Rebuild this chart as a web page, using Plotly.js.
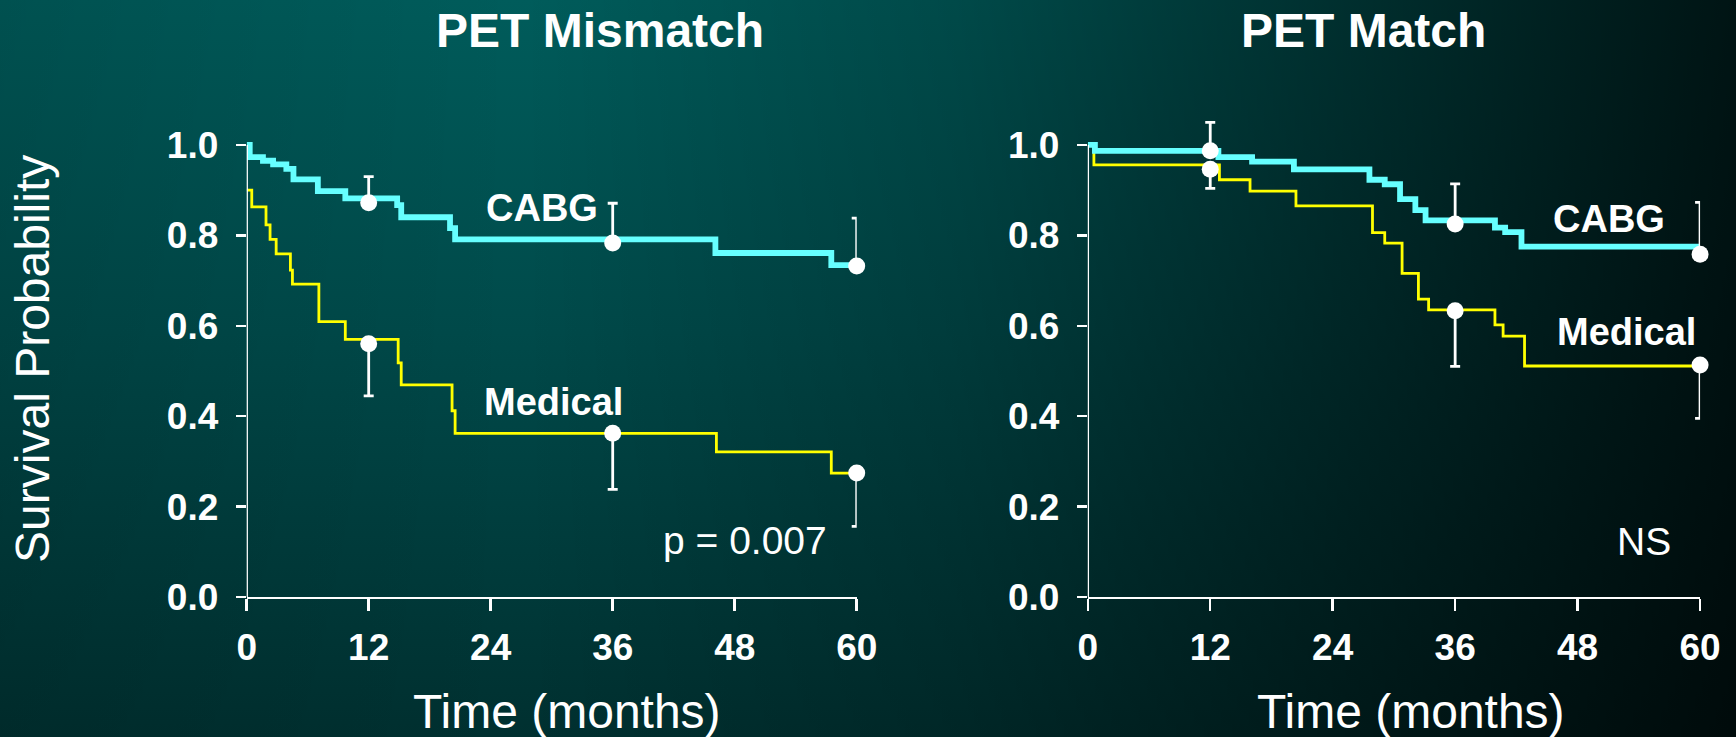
<!DOCTYPE html>
<html>
<head>
<meta charset="utf-8">
<script src="https://cdn.plot.ly/plotly-3.0.1.min.js"></script>
<style>
  html, body { margin: 0; padding: 0; }
  #chart {
    width: 1736px; height: 737px;
    background:
      linear-gradient(to right, rgba(0,0,0,0.12) 0%, rgba(0,0,0,0) 30%, rgba(0,0,0,0.2) 55%, rgba(0,0,0,0.78) 100%),
      linear-gradient(to bottom, #005c5b 0%, #004a4a 45%, #003030 100%);
  }
</style>
</head>
<body>
<div id="chart"></div>
<script>
// Axis ticks
const monthTicks = [0, 12, 24, 36, 48, 60];
const probTicks = [0, 0.2, 0.4, 0.6, 0.8, 1.0];

// PET mismatch: Kaplan-Meier step curves (time in months, survival)
const mismatchCabgTime = [0, 0.3, 1.6, 2.6, 3.9, 4.6, 7.0, 9.7, 14.8, 15.2, 20.0, 20.5, 46.1, 57.5, 60];
const mismatchCabgSurv = [1.0, 0.973, 0.965, 0.957, 0.947, 0.924, 0.898, 0.882, 0.867, 0.840, 0.816, 0.791, 0.761, 0.734, 0.734];
const mismatchMedTime = [0, 0.5, 1.9, 2.3, 2.9, 4.3, 4.5, 7.1, 9.7, 14.9, 15.2, 20.2, 20.5, 46.2, 57.5, 60];
const mismatchMedSurv = [0.900, 0.863, 0.823, 0.791, 0.759, 0.723, 0.692, 0.609, 0.570, 0.518, 0.469, 0.412, 0.362, 0.321, 0.274, 0.274];

// PET match: Kaplan-Meier step curves
const matchCabgTime = [0, 0.7, 12.8, 16.1, 20.2, 27.6, 29.1, 30.6, 32.1, 33.1, 39.9, 40.9, 42.5, 60];
const matchCabgSurv = [1.0, 0.987, 0.973, 0.963, 0.946, 0.923, 0.913, 0.880, 0.856, 0.833, 0.817, 0.807, 0.775, 0.775];
const matchMedTime = [0, 0.6, 12.9, 15.9, 20.4, 27.9, 29.1, 30.8, 32.4, 33.4, 39.9, 40.7, 42.8, 60];
const matchMedSurv = [1.0, 0.956, 0.923, 0.898, 0.865, 0.806, 0.783, 0.716, 0.659, 0.635, 0.602, 0.577, 0.511, 0.511];

// Survival estimates with one-sided error bars at 1, 3 and 5 years
const checkpointMonths = [12, 36, 60];
const mismatchCabgPoint = [0.872, 0.783, 0.732];
const mismatchCabgErrUp = [0.058, 0.088, 0.106];
const mismatchMedPoint = [0.560, 0.362, 0.274];
const mismatchMedErrDown = [0.115, 0.124, 0.118];
const matchCabgPoint = [0.987, 0.825, 0.758];
const matchCabgErrUp = [0.063, 0.089, 0.115];
const matchMedPoint = [0.946, 0.633, 0.513];
const matchMedErrDown = [0.042, 0.123, 0.118];

const CYAN = '#66ffff';
const YELLOW = '#ffff00';
const WHITE = '#ffffff';
const FONT = 'Liberation Sans, Arial, sans-serif';

// y range leaves headroom above 1.0 so error bars are not clipped;
// the visible y axis line stops at 1.0
const Y_TOP = 1.08;
const Y_DOMAIN = [0.19, 0.8524];

function stepLine(x, y, color, width, axes) {
  return {
    type: 'scatter', mode: 'lines', x: x, y: y,
    xaxis: axes[0], yaxis: axes[1],
    line: { shape: 'hv', color: color, width: width },
    hoverinfo: 'skip', showlegend: false
  };
}

function points(x, y, up, down, axes) {
  return {
    type: 'scatter', mode: 'markers', x: x, y: y,
    xaxis: axes[0], yaxis: axes[1],
    marker: { color: WHITE, size: 17 },
    error_y: {
      type: 'data', symmetric: false,
      array: up || x.map(() => 0),
      arrayminus: down || x.map(() => 0),
      color: WHITE, thickness: 2.8, width: 5
    },
    cliponaxis: false, hoverinfo: 'skip', showlegend: false
  };
}

const L = ['x', 'y'];
const R = ['x2', 'y2'];

const data = [
  stepLine(mismatchMedTime, mismatchMedSurv, YELLOW, 2.8, L),
  stepLine(mismatchCabgTime, mismatchCabgSurv, CYAN, 5.8, L),
  stepLine(matchMedTime, matchMedSurv, YELLOW, 2.8, R),
  stepLine(matchCabgTime, matchCabgSurv, CYAN, 5.8, R),
  points(checkpointMonths, mismatchCabgPoint, mismatchCabgErrUp, null, L),
  points(checkpointMonths, mismatchMedPoint, null, mismatchMedErrDown, L),
  points(checkpointMonths, matchCabgPoint, matchCabgErrUp, null, R),
  points(checkpointMonths, matchMedPoint, null, matchMedErrDown, R)
];

const tickFont = { family: FONT, size: 37, color: WHITE, weight: 'bold' };

function xAxis(domain, anchor) {
  return {
    domain: domain, anchor: anchor, range: [0, 60],
    tickvals: monthTicks, ticktext: monthTicks.map(String),
    showline: true, linecolor: WHITE, linewidth: 2.5,
    ticks: 'outside', ticklen: 12, tickwidth: 2.5, tickcolor: WHITE,
    tickfont: tickFont, ticklabelstandoff: 4,
    showgrid: false, zeroline: false, fixedrange: true
  };
}
function yAxis(domain, anchor) {
  return {
    domain: domain, anchor: anchor, range: [0, Y_TOP],
    tickvals: probTicks, tickformat: '.1f',
    showline: false,
    ticks: 'outside', ticklen: 10, tickwidth: 2.5, tickcolor: WHITE,
    tickfont: tickFont, ticklabelstandoff: 10,
    showgrid: false, zeroline: false, fixedrange: true
  };
}

function yAxisLine(xref, yref) {
  return {
    type: 'line', xref: xref, yref: yref,
    x0: 0, x1: 0, y0: 0, y1: probTicks[probTicks.length - 1],
    line: { color: WHITE, width: 2.5 }, layer: 'above'
  };
}

function label(text, x, y, xref, yref, size, bold, extra) {
  return Object.assign({
    text: text, x: x, y: y, xref: xref, yref: yref,
    xanchor: 'center', yanchor: 'middle', showarrow: false,
    font: { family: FONT, size: size, color: WHITE, weight: bold ? 'bold' : 'normal' }
  }, extra || {});
}

const layout = {
  width: 1736, height: 737,
  margin: { l: 0, r: 0, t: 0, b: 0 },
  paper_bgcolor: 'rgba(0,0,0,0)',
  plot_bgcolor: 'rgba(0,0,0,0)',
  showlegend: false,
  xaxis: xAxis([0.1421, 0.4935], 'y'),
  yaxis: yAxis(Y_DOMAIN, 'x'),
  xaxis2: xAxis([0.6266, 0.9793], 'y2'),
  yaxis2: yAxis(Y_DOMAIN, 'x2'),
  shapes: [yAxisLine('x', 'y'), yAxisLine('x2', 'y2')],
  annotations: [
    label('PET Mismatch', 0.3456, 0.959, 'paper', 'paper', 48, true),
    label('PET Match', 0.7857, 0.959, 'paper', 'paper', 48, true),
    label('Time (months)', 0.3266, 0.034, 'paper', 'paper', 48, false),
    label('Time (months)', 0.8128, 0.034, 'paper', 'paper', 48, false),
    label('Survival Probability', 0.019, 0.513, 'paper', 'paper', 48, false, { textangle: -90 }),
    label('CABG', 29.0, 0.861, 'x', 'y', 38, true),
    label('Medical', 30.2, 0.431, 'x', 'y', 38, true),
    label('p = 0.007', 49.0, 0.124, 'x', 'y', 39, false),
    label('CABG', 51.1, 0.836, 'x2', 'y2', 38, true),
    label('Medical', 52.8, 0.586, 'x2', 'y2', 38, true),
    label('NS', 54.5, 0.122, 'x2', 'y2', 39, false)
  ]
};

Plotly.newPlot('chart', data, layout, { staticPlot: true, displayModeBar: false });
</script>
</body>
</html>
